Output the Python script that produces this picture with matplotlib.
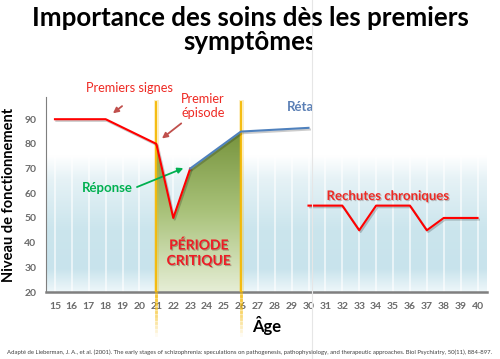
import numpy as np
import matplotlib
matplotlib.use("Agg")
import matplotlib.pyplot as plt
from matplotlib.colors import LinearSegmentedColormap
from matplotlib.patches import Polygon
from matplotlib.transforms import Bbox, TransformedBbox
import matplotlib.patheffects as pe

plt.rcParams['font.family'] = ['Lato', 'DejaVu Sans']

# données
ages = list(range(15, 41))
signes_x = [15, 18, 21, 22, 23]
signes_y = [90, 90, 80, 50, 70]
retab_x = [23, 26, 30]
retab_y = [70, 85, 86.5]
rechutes_x = [30, 32, 33, 34, 36, 37, 38, 40]
rechutes_y = [55, 55, 45, 55, 55, 45, 50, 50]
critique_x = [21, 22, 23, 26]
critique_y = [80, 50, 70, 85]
yticks = [20, 30, 40, 50, 60, 70, 80, 90]

RED = '#ff0000'
BLUE = '#4f81bd'
GOLD = '#f5b800'

fig = plt.figure(figsize=(5, 3.59), dpi=100)
ax = fig.add_axes([46/500, 1-292/359, (487-46)/500, (292-97)/359])
x0, x1 = 14.47, 40.56
ax.set_xlim(x0, x1)
ax.set_ylim(20, 99)

# fond dégradé bleu clair
bg = LinearSegmentedColormap.from_list('bg', [
    (0.0, '#eef7fa'), (0.12, '#c8e3ec'), (0.32, '#cbe5ed'),
    (0.58, '#e6f2f6'), (0.70, '#ffffff'), (1.0, '#ffffff')])
grad = np.linspace(0, 1, 256).reshape(-1, 1)
ax.imshow(grad, extent=[x0, x1, 20, 99], origin='lower', aspect='auto',
          cmap=bg, zorder=0)
for a in ages:
    ax.axvline(a, color='white', lw=1.2, alpha=0.7, zorder=1)

# zone critique (dégradé vert)
verts = list(zip(critique_x, critique_y)) + [(26, 20), (21, 20)]
poly = Polygon(verts, closed=True, facecolor='none', edgecolor='none')
ax.add_patch(poly)
green = LinearSegmentedColormap.from_list('gr', ['#e6eed6', '#a9c27a', '#76933c'])
im = ax.imshow(grad, extent=[21, 26, 20, 85], origin='lower', aspect='auto',
               cmap=green, zorder=2)
im.set_clip_path(poly)

# lignes verticales dorées
for xv in (21, 26):
    ax.plot([xv, xv], [20, 97], color=GOLD, lw=3.5, alpha=0.25, zorder=3)
    ax.plot([xv, xv], [20, 97], color=GOLD, lw=1.3, zorder=3)
    steps = np.linspace(20, 2.5, 12)
    for i in range(len(steps) - 1):
        ax.plot([xv, xv], [steps[i], steps[i+1]], color=GOLD, lw=2,
                alpha=0.6 * (1 - i / 11), clip_on=False, zorder=3)

shadow = [pe.SimpleLineShadow(offset=(1, -1.2), alpha=0.2), pe.Normal()]
ax.plot(signes_x, signes_y, color=RED, lw=1.5, zorder=5, path_effects=shadow)
ax.plot(retab_x, retab_y, color=BLUE, lw=1.5, zorder=5, path_effects=shadow)
ax.plot(rechutes_x, rechutes_y, color=RED, lw=1.5, zorder=5, path_effects=shadow)

ax.spines[['top', 'right']].set_visible(False)
ax.spines['left'].set_color('#7f7f7f')
ax.spines['bottom'].set_color('#7f7f7f')
ax.spines['bottom'].set_linewidth(1.8)
ax.set_xticks(ages)
ax.set_yticks(yticks)
ax.tick_params(length=0, colors='#595959', labelsize=7.5, pad=7)
for lab in ax.get_xticklabels() + ax.get_yticklabels():
    lab.set_fontweight('bold')
    lab.set_color('#6b6b6b')
ax.set_xlabel('Âge', fontsize=12, fontweight='bold', labelpad=4)
ax.set_ylabel('Niveau de fonctionnement', fontsize=10.5, fontweight='bold', labelpad=6)

# annotations
ax.text(19.4, 102.6, 'Premiers signes', color='#ee2a24', fontsize=9.2,
        ha='center', va='center')
ax.annotate('', xy=(18.3, 91.7), xytext=(19.1, 96.0),
            arrowprops=dict(arrowstyle='-|>', color='#c0504d', lw=1.3, mutation_scale=8))
ax.text(23.76, 95.3, 'Premier\népisode', color='#ee2a24', fontsize=9.2,
        ha='center', va='center', linespacing=1.15)
ax.annotate('', xy=(21.2, 81.5), xytext=(22.6, 89.0),
            arrowprops=dict(arrowstyle='-|>', color='#c0504d', lw=1.3, mutation_scale=8))
ax.text(18.1, 62.1, 'Réponse', color='#00b050', fontsize=9.5, fontweight='bold',
        ha='center', va='center')
ax.annotate('', xy=(22.75, 70.6), xytext=(19.7, 62.1),
            arrowprops=dict(arrowstyle='-|>', color='#00b050', lw=1.3, mutation_scale=8))
ax.text(34.7, 58.9, 'Rechutes chroniques', color='#ee2a24', fontsize=9.5,
        fontweight='bold', ha='center', va='center',
        path_effects=[pe.withSimplePatchShadow(offset=(0.8, -0.8), alpha=0.25)])
ax.text(23.5, 35.8, 'PÉRIODE\nCRITIQUE', color='#ee1c25', fontsize=10,
        fontweight='bold', ha='center', va='center', linespacing=1.35,
        path_effects=[pe.withSimplePatchShadow(offset=(0.8, -0.8), alpha=0.3)])

cut = TransformedBbox(Bbox([[0, 0], [312/500, 1]]), fig.transFigure)
t = ax.text(28.7, 94.9, 'Rétablissement', color='#5a7fb5', fontsize=9.5,
            fontweight='bold', ha='left', va='center', clip_on=True)
t.set_clip_box(cut)

# titre
fig.text(0.5, 1 - 18/359, 'Importance des soins dès les premiers', fontsize=18.6,
         fontweight='bold', ha='center', va='center')
t2 = fig.text(0.5, 1 - 42/359, 'symptômes', fontsize=18.6, fontweight='bold',
              ha='center', va='center')
t2.set_clip_on(True)
t2.set_clip_box(cut)

fig.add_artist(plt.Line2D([312/500, 312/500], [0, 1], color='#e6e6e6', lw=0.8,
                          transform=fig.transFigure))

fig.text(7/500, 1 - 352/359,
         'Adapté de Lieberman, J. A., et al. (2001). The early stages of schizophrenia: '
         'speculations on pathogenesis, pathophysiology, and therapeutic approaches. '
         'Biol Psychiatry, 50(11), 884-897.', fontsize=4.35, color='#404040',
         ha='left', va='center')

fig.savefig('out.png', dpi=100)
